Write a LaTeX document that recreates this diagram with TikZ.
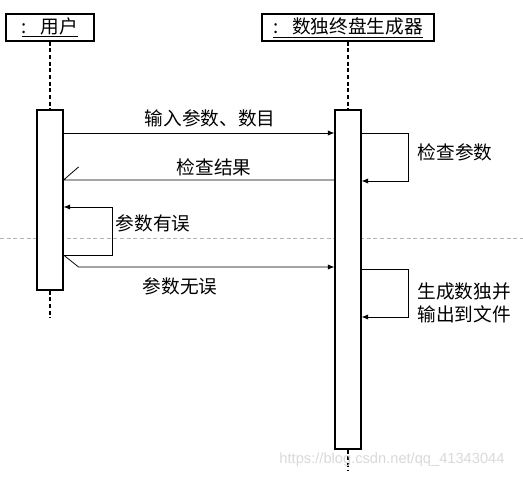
\documentclass[tikz,border=0pt]{standalone}
\usepackage{fontspec}
\setmainfont{Noto Sans CJK SC}
\newfontfamily\markfont{Liberation Sans}
\usetikzlibrary{positioning,calc,arrows.meta}

\begin{document}
\begin{tikzpicture}[
    x=0.75pt,
    y=-0.75pt,
    >={Latex[length=5pt,width=4pt]},
    every node/.style={
        font=\fontsize{14}{17}\selectfont
    },
    object/.style={
        draw,
        rectangle,
        line width=0.8pt,
        minimum height=20.25pt,
        inner sep=0pt
    },
    activation/.style={
        draw,
        rectangle,
        fill=white,
        line width=0.8pt,
        minimum width=19.5pt,
        inner sep=0pt
    },
    lifeline/.style={
        draw,
        line width=0.8pt,
        dash pattern=on 3pt off 2pt
    },
    msg/.style={
        ->,
        line width=0.6pt
    },
    reply/.style={
        line width=0.6pt
    },
    sepline/.style={
        draw=gray!60,
        line width=0.4pt,
        dash pattern=on 3pt off 2pt
    },
    label/.style={
        inner sep=1pt
    }
]

\useasboundingbox (0,0) rectangle (523,477);

%%%%%%%%%%%%%%%%%%%%%%%%%%%%%%%%%%%%%%%%%%%%%%%%%%%%
%% Objects
%%%%%%%%%%%%%%%%%%%%%%%%%%%%%%%%%%%%%%%%%%%%%%%%%%%%

\node[object,minimum width=66pt] (user) at (50,27.5)
{\underline{:\hspace{0.75em}用户}};

\node[object,minimum width=129pt] (gen) at (348,27.5)
{\underline{:\hspace{0.75em}数独终盘生成器}};

%%%%%%%%%%%%%%%%%%%%%%%%%%%%%%%%%%%%%%%%%%%%%%%%%%%%
%% Separator
%%%%%%%%%%%%%%%%%%%%%%%%%%%%%%%%%%%%%%%%%%%%%%%%%%%%

\coordinate (sepl) at (0,238);
\coordinate (sepr) at (523,238);
\draw[sepline] (sepl) -- (sepr);

%%%%%%%%%%%%%%%%%%%%%%%%%%%%%%%%%%%%%%%%%%%%%%%%%%%%
%% Activations and lifelines
%%%%%%%%%%%%%%%%%%%%%%%%%%%%%%%%%%%%%%%%%%%%%%%%%%%%

\node[activation,minimum height=135pt] (useract) at (50,200) {};
\node[activation,minimum height=254.25pt] (genact) at (348,279.5) {};

\coordinate (userend) at (50,318);
\coordinate (genend) at (348,470);

\draw[lifeline] (user.south) -- (useract.north);
\draw[lifeline] (useract.south) -- (userend);
\draw[lifeline] (gen.south) -- (genact.north);
\draw[lifeline] (genact.south) -- (genend);

%%%%%%%%%%%%%%%%%%%%%%%%%%%%%%%%%%%%%%%%%%%%%%%%%%%%
%% Messages
%%%%%%%%%%%%%%%%%%%%%%%%%%%%%%%%%%%%%%%%%%%%%%%%%%%%

\draw[msg] (useract.east |- 0,133) -- (genact.west |- 0,133);
\node[label] (msgone) at (210,118) {输入参数、数目};

\draw[msg] (genact.east |- 0,133) -- ++(47,0) |- (genact.east |- 0,181);
\node[label] (check) at (455,152) {检查参数};

\draw[reply] (genact.west |- 0,180) -- (useract.east |- 0,180) -- ++(15,-13);
\node[label] (result) at (214,167) {检查结果};

\draw[msg] (useract.east |- 0,255) -- ++(49,0) |- (useract.east |- 0,207);
\node[label] (wrong) at (153,223) {参数有误};

\draw[msg] (useract.east |- 0,255) -- ++(15,12) -- (genact.west |- 0,267);
\node[label] (right) at (180,286) {参数无误};

\draw[msg] (genact.east |- 0,269) -- ++(47,0) |- (genact.east |- 0,317);
\node[label,align=left,anchor=west] (output) at (416,303)
{生成数独并\\输出到文件};

%%%%%%%%%%%%%%%%%%%%%%%%%%%%%%%%%%%%%%%%%%%%%%%%%%%%
%% Watermark
%%%%%%%%%%%%%%%%%%%%%%%%%%%%%%%%%%%%%%%%%%%%%%%%%%%%

\node[label,text=gray!30,font=\markfont\fontsize{11}{13}\selectfont] (mark) at (392,460)
{https://blog.csdn.net/qq\_41343044};

\end{tikzpicture}
\end{document}
